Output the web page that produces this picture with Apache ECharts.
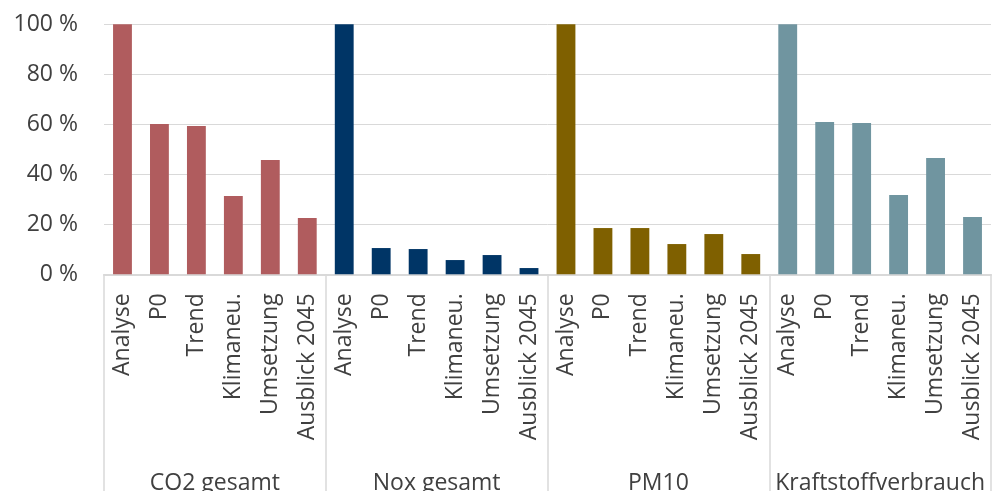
<!DOCTYPE html>
<html>
<head>
<meta charset="utf-8">
<script src="https://cdn.jsdelivr.net/npm/echarts@6/dist/echarts.min.js"></script>
<style>
  html, body { margin: 0; padding: 0; background: #fff; }
  #chart { width: 993px; height: 491px; }
</style>
</head>
<body>
<div id="chart"></div>
<script>
// Pollutant groups and scenario phases
const groups = ['CO2 gesamt', 'Nox gesamt', 'PM10', 'Kraftstoffverbrauch'];
const phases = ['Analyse', 'P0', 'Trend', 'Klimaneu.', 'Umsetzung', 'Ausblick 2045'];

// Share of the analysis value (%) per phase
const co2   = [100, 60.1, 59.3, 31.3, 45.7, 22.5];
const nox   = [100, 10.5, 10.1, 5.7, 7.7, 2.5];
const pm10  = [100, 18.5, 18.5, 12.1, 16.1, 8.1];
const kraft = [100, 60.9, 60.5, 31.7, 46.5, 22.9];

const yTicks = [0, 20, 40, 60, 80, 100];

const groupColors = ['#b05c5e', '#003566', '#7f6000', '#7095a0'];
const groupValues = [co2, nox, pm10, kraft];

const categories = [];
const barData = [];
groups.forEach((g, gi) => {
  phases.forEach((p, pi) => {
    categories.push(p);
    barData.push({ value: groupValues[gi][pi], itemStyle: { color: groupColors[gi] } });
  });
});

const font = 'Open Sans';
const textColor = '#404040';
const lineColor = '#d9d9d9';

const chart = echarts.init(document.getElementById('chart'), null, { renderer: 'canvas' });
chart.setOption({
  animation: false,
  grid: {
    left: 104, right: 2, top: 24.3, bottom: 216.7,
    containLabel: false,
    outerBoundsMode: 'none'
  },
  xAxis: [
    {
      type: 'category',
      data: categories,
      position: 'bottom',
      axisLine: { show: true, lineStyle: { color: lineColor, width: 2 } },
      axisTick: { show: false },
      axisLabel: {
        interval: 0, rotate: 90, margin: 19,
        fontFamily: font, fontSize: 23, color: textColor
      }
    },
    {
      type: 'category',
      data: groups,
      position: 'bottom',
      boundaryGap: true,
      axisLine: { show: false },
      axisTick: {
        show: true, interval: 0, alignWithLabel: false, length: 220,
        lineStyle: { color: lineColor, width: 1.5 }
      },
      axisLabel: {
        interval: 0, margin: 198,
        fontFamily: font, fontSize: 23, color: textColor
      }
    }
  ],
  yAxis: {
    type: 'value',
    min: yTicks[0],
    max: yTicks[yTicks.length - 1],
    interval: 20,
    axisLine: { show: false },
    axisTick: { show: false },
    splitLine: { lineStyle: { color: lineColor, width: 1 } },
    axisLabel: {
      margin: 26, fontFamily: font, fontSize: 23, color: textColor,
      formatter: v => v + ' %'
    }
  },
  series: [{
    type: 'bar',
    xAxisIndex: 0,
    data: barData,
    barWidth: '51%'
  }]
});
</script>
</body>
</html>
